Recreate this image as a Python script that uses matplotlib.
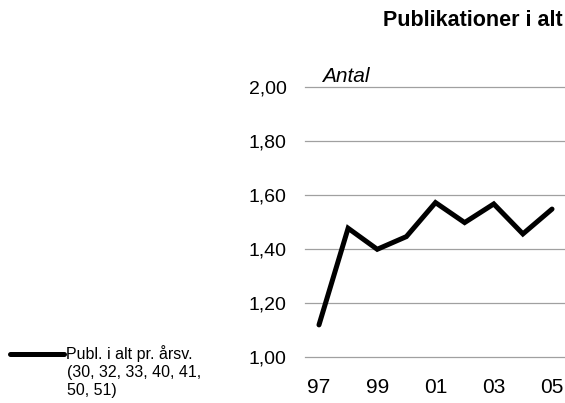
import numpy as np
import matplotlib
matplotlib.use('Agg')
import matplotlib.pyplot as plt

plt.rcParams['font.family'] = ['Liberation Sans', 'DejaVu Sans']

years = ['97', '98', '99', '00', '01', '02', '03', '04', '05']
publ = [1.12, 1.478, 1.40, 1.447, 1.573, 1.499, 1.568, 1.457, 1.549]
yticks = [1.00, 1.20, 1.40, 1.60, 1.80, 2.00]
ylabels = ['1,00', '1,20', '1,40', '1,60', '1,80', '2,00']
series_label = 'Publ. i alt pr. årsv.'
series_note = ['(30, 32, 33, 40, 41,', '50, 51)']

W, H = 565, 403
fig = plt.figure(figsize=(W / 100, H / 100), dpi=100)
ax = fig.add_axes([305 / W, 1 - 357.3 / H, 261 / W, 270 / H])

x = np.arange(len(years))
line, = ax.plot(x, publ, color='black', lw=3.6, solid_joinstyle='miter',
                solid_capstyle='round', clip_on=False)

ax.set_xlim(-0.48, len(years) - 0.52)
ax.set_ylim(1.0, 2.0)
ax.set_yticks(yticks)
ax.set_yticklabels(ylabels, fontsize=14)
ax.set_xticks(x[::2])
ax.set_xticklabels(years[::2], fontsize=15)
ax.tick_params(axis='y', length=0, pad=13.2)
ax.tick_params(axis='x', length=0, pad=15)
ax.grid(axis='y', color='#a0a0a0', lw=0.9)
for g in ax.yaxis.get_gridlines():
    g.set_clip_on(False)
ax.set_axisbelow(True)
for s in ax.spines.values():
    s.set_visible(False)

ax.text(0.066, 1.0207, 'Antal', transform=ax.transAxes, style='italic', fontsize=15,
        ha='left', va='baseline')
fig.text(563 / W, 1 - 21 / H, 'Publikationer i alt', fontsize=15.5, fontweight='bold',
         ha='right', va='center')

fig.legend([line], [series_label], loc='center left', bbox_to_anchor=(10 / W, 1 - 354 / H),
           frameon=False, fontsize=11.5, handlelength=3.4, handletextpad=0.1,
           borderaxespad=0, borderpad=0)
for i, txt in enumerate(series_note):
    fig.text(66.7 / W, 1 - (377.5 + 18 * i) / H, txt, fontsize=11.5, ha='left', va='baseline')

fig.savefig('out.png', dpi=100)
